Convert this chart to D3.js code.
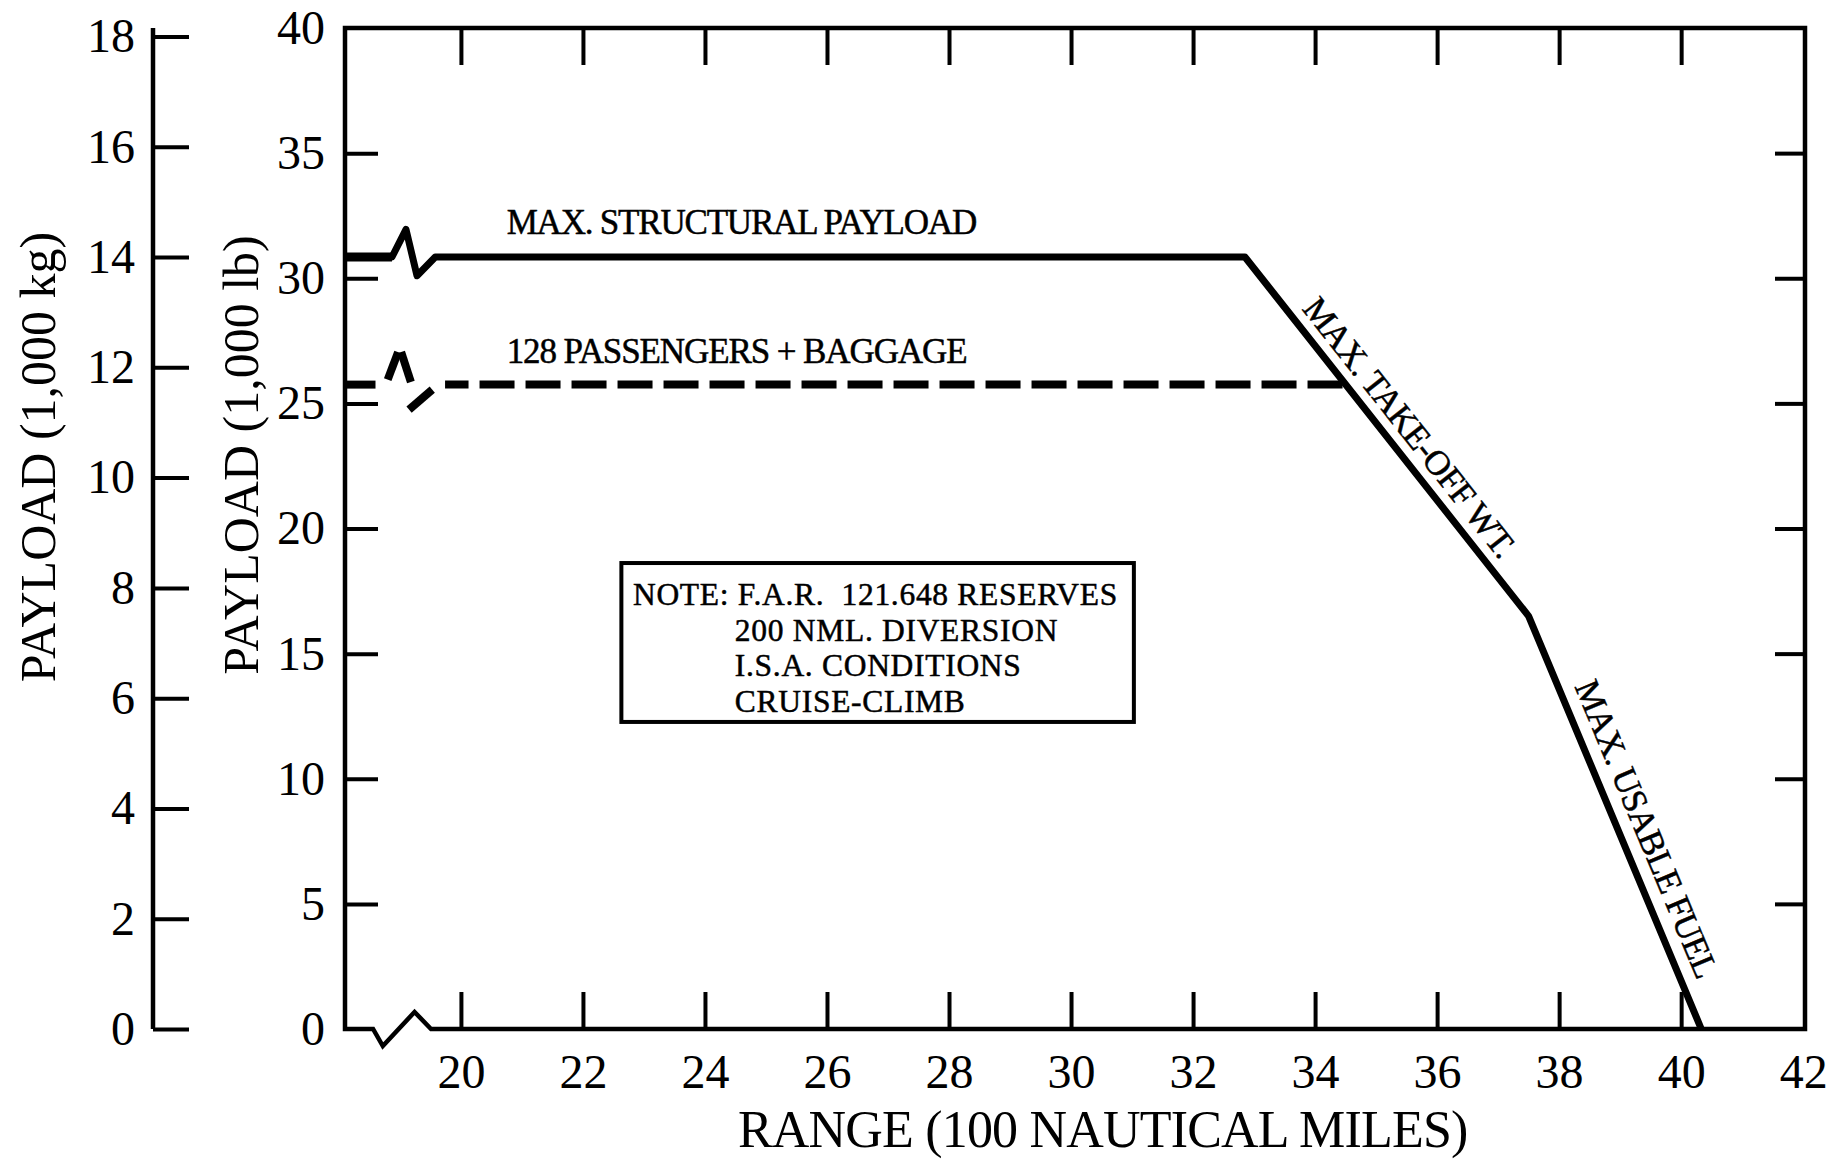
<!DOCTYPE html>
<html><head><meta charset="utf-8">
<script src="https://cdn.jsdelivr.net/npm/d3@7"></script>
<style>
html,body{margin:0;padding:0;background:#fff;}
svg{display:block;background:#fff;}
text{font-family:"Liberation Serif","Times New Roman",Times,serif;fill:#000;}
</style></head><body>
<svg id="chart" width="1841" height="1160"></svg>
<script>
// ---------- data ----------
const xTicks = [20, 22, 24, 26, 28, 30, 32, 34, 36, 38, 40, 42];
const xInnerTicks = [20, 22, 24, 26, 28, 30, 32, 34, 36, 38, 40];
const lbTicks = [0, 5, 10, 15, 20, 25, 30, 35, 40];
const kgTicks = [0, 2, 4, 6, 8, 10, 12, 14, 16, 18];

// payload envelope (range in 100 NM, payload in 1,000 lb)
const envelopeRange   = [18.1, 18.87, 19.1, 19.28, 19.58, 32.85, 37.5, 40.33];
const envelopePayload = [30.85, 30.85, 31.95, 30.1, 30.85, 30.85, 16.5, 0];

// 128 passengers + baggage (dashed)
const paxRange   = [34.45, 19.74];
const paxPayload = [25.75, 25.75];
const paxBreakRange   = [[18.1, 18.6], [18.8, 18.97], [19.02, 19.18], [19.15, 19.53]];
const paxBreakPayload = [[25.75, 25.75], [25.95, 27.05], [27.05, 25.85], [24.75, 25.55]];

// axis break on the range axis
const axisBreakRange   = [18.1, 18.56, 18.72, 19.24, 19.51];
const axisBreakPayload = [0, 0, -0.68, 0.68, 0];

const noteLines = ["NOTE: F.A.R.  121.648 RESERVES", "200 NML. DIVERSION", "I.S.A. CONDITIONS", "CRUISE-CLIMB"];

// ---------- layout ----------
const svg = d3.select("#chart");
const x = d3.scaleLinear().domain([18.1, 42.03]).range([345, 1805]);
const yLb = d3.scaleLinear().domain([0, 40]).range([1029, 28]);
const yKg = d3.scaleLinear().domain([0, 18]).range([1029, 36.5]);
const kgAxisX = 153;
const BLACK = "#000";

function styleAxis(g, fs) {
  g.selectAll(".domain").remove();
  g.selectAll(".tick line").attr("stroke", BLACK).attr("stroke-width", 4);
  g.selectAll(".tick text").attr("font-size", fs).attr("fill", BLACK)
    .attr("font-family", "'Liberation Serif','Times New Roman',serif");
}

// kg axis
const gKg = svg.append("g").attr("transform", `translate(${kgAxisX},0)`)
  .call(d3.axisLeft(yKg).tickValues(kgTicks).tickSizeInner(-36).tickSizeOuter(0).tickPadding(18));
styleAxis(gKg, 48);
svg.append("line").attr("x1", kgAxisX).attr("x2", kgAxisX)
  .attr("y1", yLb(40)).attr("y2", yLb(0)).attr("stroke", BLACK).attr("stroke-width", 4.5);

// lb axis (left of frame)
const gLb = svg.append("g").attr("transform", `translate(${x(18.1)},0)`)
  .call(d3.axisLeft(yLb).tickValues(lbTicks).tickSizeInner(-33).tickSizeOuter(0).tickPadding(20));
styleAxis(gLb, 48);
gLb.selectAll(".tick").filter(d => d === 0 || d === 40).select("line").remove();

// right ticks
const gR = svg.append("g").attr("transform", `translate(${x(42.03)},0)`)
  .call(d3.axisRight(yLb).tickValues(lbTicks.filter(d => d > 0 && d < 40)).tickSizeInner(-30).tickSizeOuter(0).tickFormat(""));
styleAxis(gR, 48);

// top ticks
const gT = svg.append("g").attr("transform", `translate(0,${yLb(40)})`)
  .call(d3.axisTop(x).tickValues(xInnerTicks).tickSizeInner(-37).tickSizeOuter(0).tickFormat(""));
styleAxis(gT, 48);

// bottom axis
const gB = svg.append("g").attr("transform", `translate(0,${yLb(0)})`)
  .call(d3.axisBottom(x).tickValues(xTicks).tickSizeInner(-37).tickSizeOuter(0).tickPadding(25));
styleAxis(gB, 48);
gB.selectAll(".tick").filter(d => d === 42).select("line").remove();

// frame with axis break
const framePts = axisBreakRange.map((r, i) => [r, axisBreakPayload[i]])
  .concat([[42.03, 0], [42.03, 40], [18.1, 40], [18.1, 0]]);
svg.append("path")
  .attr("d", d3.line().x(d => x(d[0])).y(d => yLb(d[1]))(framePts))
  .attr("fill", "none").attr("stroke", BLACK).attr("stroke-width", 4.5)
  .attr("stroke-linejoin", "miter").attr("stroke-linecap", "square");

// envelope
const env = envelopeRange.map((r, i) => [r, envelopePayload[i]]);
svg.append("path")
  .attr("d", d3.line().x(d => x(d[0])).y(d => yLb(d[1]))(env))
  .attr("fill", "none").attr("stroke", BLACK).attr("stroke-width", 7)
  .attr("stroke-linejoin", "round");
// thicker stub before the break
svg.append("path")
  .attr("d", d3.line().x(d => x(d[0])).y(d => yLb(d[1]))(env.slice(0, 2)))
  .attr("fill", "none").attr("stroke", BLACK).attr("stroke-width", 9);

// passengers dashed line
svg.append("path")
  .attr("d", d3.line().x(d => x(d[0])).y(d => yLb(d[1]))(paxRange.map((r, i) => [r, paxPayload[i]])))
  .attr("fill", "none").attr("stroke", BLACK).attr("stroke-width", 8)
  .attr("stroke-dasharray", "35 11");
paxBreakRange.forEach((rr, i) => {
  svg.append("line")
    .attr("x1", x(rr[0])).attr("x2", x(rr[1]))
    .attr("y1", yLb(paxBreakPayload[i][0])).attr("y2", yLb(paxBreakPayload[i][1]))
    .attr("stroke", BLACK).attr("stroke-width", 8);
});

// labels on horizontal lines
const annoFont = 35;
function heavy(sel) { return sel.attr("stroke", BLACK).attr("stroke-width", 0.5); }
heavy(svg.append("text").attr("x", x(20.75)).attr("y", yLb(envelopePayload[5]) - 23)
  .attr("font-size", annoFont).attr("letter-spacing", -1.2)
  .text("MAX. STRUCTURAL PAYLOAD"));
heavy(svg.append("text").attr("x", x(20.75)).attr("y", yLb(paxPayload[0]) - 22)
  .attr("font-size", annoFont).attr("letter-spacing", -1.1)
  .text("128 PASSENGERS + BAGGAGE"));

// labels along sloped segments
function slopeLabel(i0, i1, t, off, txt) {
  const x0 = x(envelopeRange[i0]), y0 = yLb(envelopePayload[i0]);
  const x1 = x(envelopeRange[i1]), y1 = yLb(envelopePayload[i1]);
  const ang = Math.atan2(y1 - y0, x1 - x0) * 180 / Math.PI;
  const px = x0 + (x1 - x0) * t, py = y0 + (y1 - y0) * t;
  heavy(svg.append("text")
    .attr("transform", `translate(${px},${py}) rotate(${ang})`)
    .attr("x", 0).attr("y", -off)
    .attr("text-anchor", "middle").attr("font-size", annoFont).attr("letter-spacing", -0.8)
    .text(txt));
}
slopeLabel(5, 6, 0.515, 12, "MAX. TAKE-OFF WT.");
slopeLabel(6, 7, 0.54, 15, "MAX. USABLE FUEL");

// note box
const bx0 = x(22.63), bx1 = x(31.03), by0 = yLb(18.62), by1 = yLb(12.27);
svg.append("rect").attr("x", bx0).attr("y", by0).attr("width", bx1 - bx0).attr("height", by1 - by0)
  .attr("fill", "#fff").attr("stroke", BLACK).attr("stroke-width", 4);
noteLines.forEach((t, i) => {
  heavy(svg.append("text")
    .attr("x", i === 0 ? x(22.82) : x(24.49))
    .attr("y", by0 + 42 + i * 35.5)
    .attr("font-size", 31.5).attr("letter-spacing", 0.7)
    .style("white-space", "pre")
    .text(t));
});

// axis titles
svg.append("text").attr("transform", "translate(55,457) rotate(-90)")
  .attr("text-anchor", "middle").attr("font-size", 50).text("PAYLOAD (1,000 kg)");
svg.append("text").attr("transform", "translate(258,455) rotate(-90)")
  .attr("text-anchor", "middle").attr("font-size", 50).text("PAYLOAD (1,000 lb)");
svg.append("text").attr("x", x(30.52)).attr("y", 1147)
  .attr("text-anchor", "middle").attr("font-size", 52).attr("letter-spacing", -0.8)
  .text("RANGE (100 NAUTICAL MILES)");
</script>
</body></html>
